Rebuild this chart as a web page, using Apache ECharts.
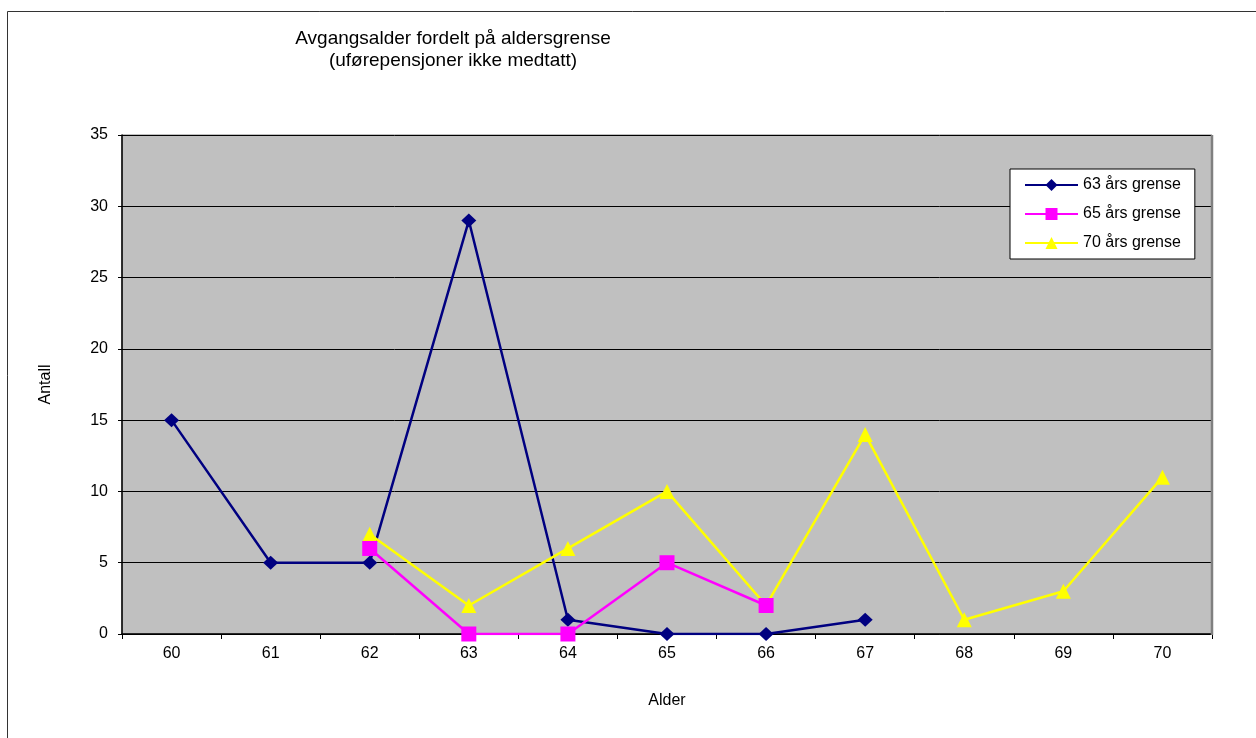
<!DOCTYPE html>
<html>
<head>
<meta charset="utf-8">
<script src="https://cdn.jsdelivr.net/npm/echarts@6/dist/echarts.min.js"></script>
<style>
  html, body { margin: 0; padding: 0; background: #fff; }
  #chart { width: 1256px; height: 738px; }
</style>
</head>
<body>
<div id="chart"></div>
<script>
// Retirement age by category (ages 60–70)
const ages = ['60', '61', '62', '63', '64', '65', '66', '67', '68', '69', '70'];
const grense63 = [15, 5, 5, 29, 1, 0, 0, 1, null, null, null];
const grense65 = [null, null, 6, 0, 0, 5, 2, null, null, null, null];
const grense70 = [null, null, 7, 2, 6, 10, 2, 14, 1, 3, 11];
const yTicks = { min: 0, max: 35, interval: 5 };

const font = 'Liberation Sans, Arial, sans-serif';
const chart = echarts.init(document.getElementById('chart'), null, { renderer: 'canvas' });

chart.setOption({
  animation: false,
  backgroundColor: '#ffffff',
  textStyle: { fontFamily: font, color: '#000' },
  title: {
    text: 'Avgangsalder fordelt på aldersgrense\n(uførepensjoner ikke medtatt)',
    left: 448,
    top: 23,
    textAlign: 'center',
    textStyle: { fontFamily: font, fontSize: 19, fontWeight: 'normal', color: '#000', lineHeight: 22 }
  },
  graphic: [
    {
      type: 'rect',
      shape: { x: 7.5, y: 11.5, width: 1300, height: 800 },
      style: { fill: null, stroke: '#333', lineWidth: 1 },
      silent: true, z: -1
    },
    {
      type: 'line',
      shape: { x1: 1212, y1: 135, x2: 1212, y2: 635 },
      style: { stroke: '#808080', lineWidth: 2.5 },
      silent: true, z: 5
    }
  ],
  legend: {
    orient: 'vertical',
    left: 1010,
    top: 169,
    padding: [8, 14, 8, 14],
    itemGap: 13,
    itemWidth: 53,
    itemHeight: 15,
    backgroundColor: '#ffffff',
    borderColor: '#000',
    borderWidth: 1,
    borderRadius: 0,
    textStyle: { fontFamily: font, fontSize: 16, color: '#000' },
    data: ['63 års grense', '65 års grense', '70 års grense']
  },
  grid: {
    left: 122, top: 135, right: 44, bottom: 104,
    show: true,
    backgroundColor: '#c0c0c0',
    borderColor: '#808080',
    borderWidth: 1,
    containLabel: false
  },
  xAxis: {
    type: 'category',
    data: ages,
    boundaryGap: true,
    name: 'Alder',
    nameLocation: 'middle',
    nameGap: 59,
    nameTextStyle: { fontFamily: font, fontSize: 16, color: '#000' },
    axisLine: { lineStyle: { color: '#000', width: 1.5 } },
    axisTick: { show: true, interval: 0, length: 5, lineStyle: { color: '#000' } },
    axisLabel: { interval: 0, fontFamily: font, fontSize: 16, color: '#000', margin: 12 },
    splitLine: { show: false }
  },
  yAxis: {
    type: 'value',
    min: yTicks.min,
    max: yTicks.max,
    interval: yTicks.interval,
    name: 'Antall',
    nameLocation: 'middle',
    nameRotate: 90,
    nameGap: 68,
    nameTextStyle: { fontFamily: font, fontSize: 16, color: '#000' },
    axisLine: { show: true, lineStyle: { color: '#000', width: 1.5 } },
    axisTick: { show: true, length: 4, lineStyle: { color: '#000' } },
    axisLabel: { fontFamily: font, fontSize: 16, color: '#000', margin: 14 },
    splitLine: { show: true, lineStyle: { color: '#000', width: 1 } }
  },
  series: [
    {
      name: '63 års grense',
      type: 'line',
      data: grense63,
      connectNulls: false,
      symbol: 'diamond',
      symbolSize: [15, 14],
      itemStyle: { color: '#000080' },
      lineStyle: { color: '#000080', width: 2.5 },
      z: 2
    },
    {
      name: '70 års grense',
      type: 'line',
      data: grense70,
      symbol: 'triangle',
      symbolSize: [15, 15],
      itemStyle: { color: '#ffff00' },
      lineStyle: { color: '#ffff00', width: 2.5 },
      z: 3
    },
    {
      name: '65 års grense',
      type: 'line',
      data: grense65,
      symbol: 'rect',
      symbolSize: 15,
      itemStyle: { color: '#ff00ff' },
      lineStyle: { color: '#ff00ff', width: 2.5 },
      z: 4
    }
  ]
});
</script>
</body>
</html>
